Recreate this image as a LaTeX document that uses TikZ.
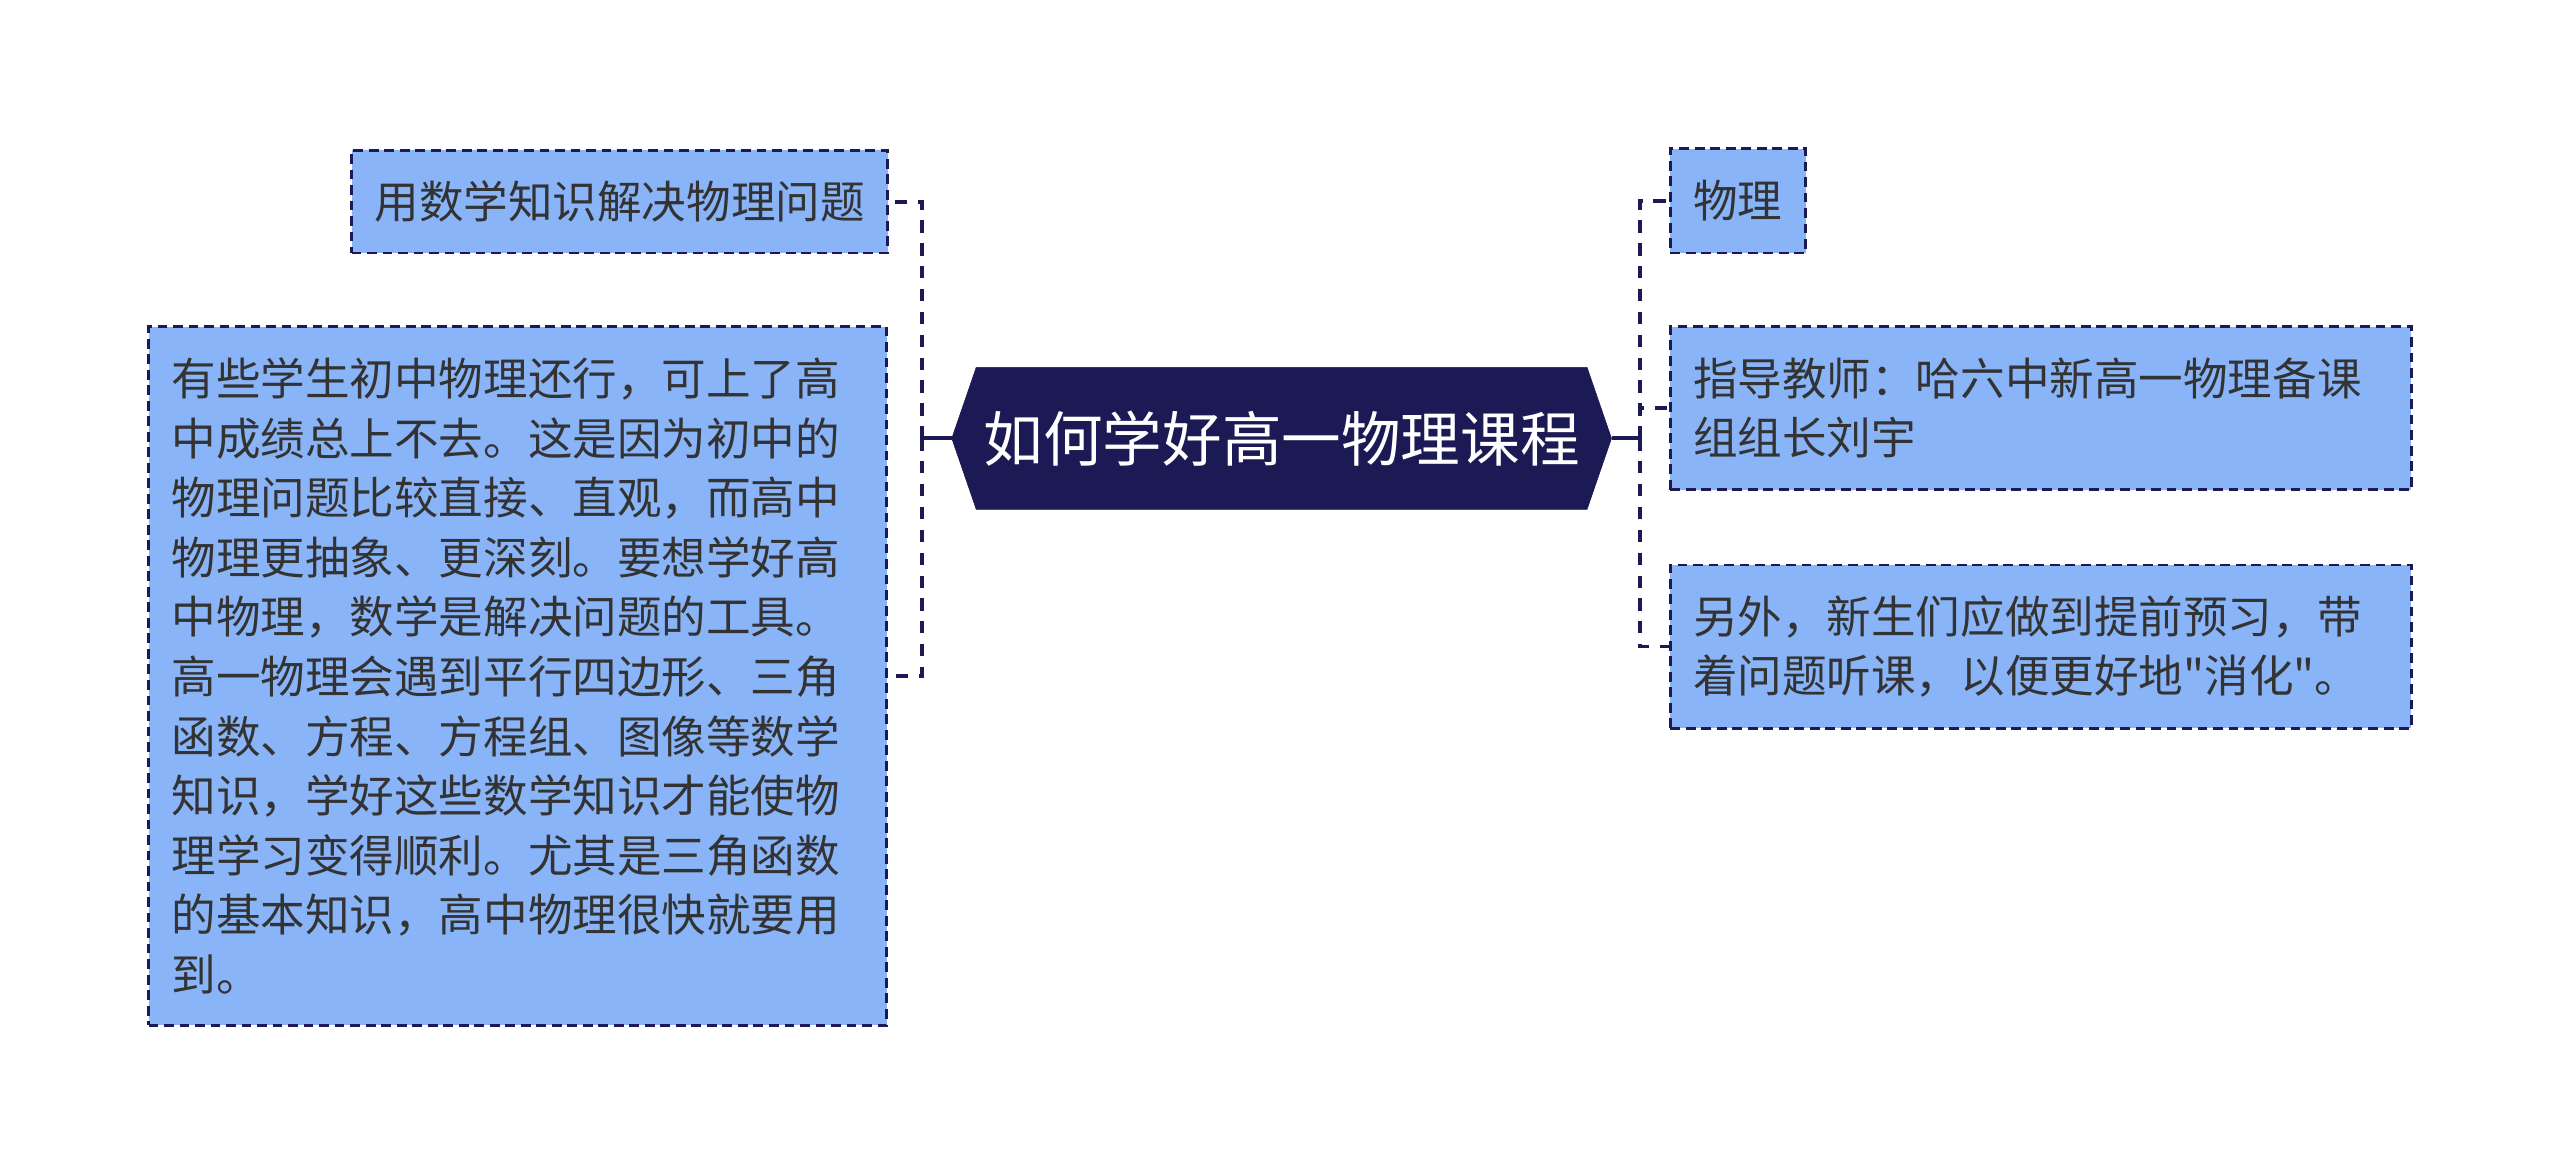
\documentclass[tikz,border=0pt]{standalone}
\usepackage{fontspec}
\setmainfont{Noto Sans CJK SC}[Ligatures=TeXOff]
\usetikzlibrary{shapes.symbols}
\definecolor{navy}{HTML}{1C1A55}
\definecolor{leafblue}{HTML}{8AB4F8}
\definecolor{inkgray}{HTML}{333333}

\begin{document}
\begin{tikzpicture}[x=1pt, y=-1pt,
    titlebox/.style={signal, signal to=west and east, signal pointer angle=142,
          fill=navy, draw=navy, text=white, minimum width=404pt, minimum height=87pt,
          inner xsep=0pt, font=\fontsize{36.5}{40}\selectfont},
    leafbox/.style={rectangle, fill=leafblue, draw=navy, line width=1.7pt,
          dash pattern=on 6pt off 3.5pt, text=inkgray, inner xsep=14pt, inner ysep=0pt,
          align=left, font=\fontsize{27.3}{36.5}\selectfont},
    link/.style={draw=navy, line width=2.4pt, dash pattern=on 7.5pt off 6.5pt}]
    \useasboundingbox (0,0) rectangle (1568,720);

    \node[titlebox] (title) at (785,268.5) {如何学好高一物理课程};

    % left side
    \node[leafbox, minimum width=327pt, minimum height=63pt] (lmath) at (379.5,123.5)
          {用数学知识解决物理问题};
    \node[leafbox, minimum width=452pt, minimum height=428pt, text width=424pt] (ltext) at (317,414)
          {有些学生初中物理还行，可上了高\\中成绩总上不去。这是因为初中的\\物理问题比较直接、直观，而高中\\
           物理更抽象、更深刻。要想学好高\\中物理，数学是解决问题的工具。\\高一物理会遇到平行四边形、三角\\
           函数、方程、方程组、图像等数学\\知识，学好这些数学知识才能使物\\理学习变得顺利。尤其是三角函数\\
           的基本知识，高中物理很快就要用\\到。};

    % right side
    \node[leafbox, minimum width=83pt, minimum height=64pt] (rphys) at (1064.5,123)
          {物理};
    \node[leafbox, minimum width=454pt, minimum height=100pt, text width=426pt] (rteacher) at (1250,250)
          {指导教师：哈六中新高一物理备课\\组组长刘宇};
    \node[leafbox, minimum width=454pt, minimum height=100pt, text width=426pt] (rnote) at (1250,396)
          {另外，新生们应做到提前预习，带\\着问题听课，以便更好地"消化"。};

    % connectors
    \draw[navy, line width=2.4pt] (title.west) -- ++(-18,0) coordinate (ljoin);
    \draw[link] (ljoin) |- (lmath.east);
    \draw[link] (ljoin) |- (ltext.east);
    \draw[navy, line width=2.4pt] (title.east) -- ++(17,0) coordinate (rjoin);
    \draw[link] (rjoin) |- (rphys.west);
    \draw[link] (rjoin) |- (rteacher.west);
    \draw[link] (rjoin) |- (rnote.west);
\end{tikzpicture}
\end{document}
